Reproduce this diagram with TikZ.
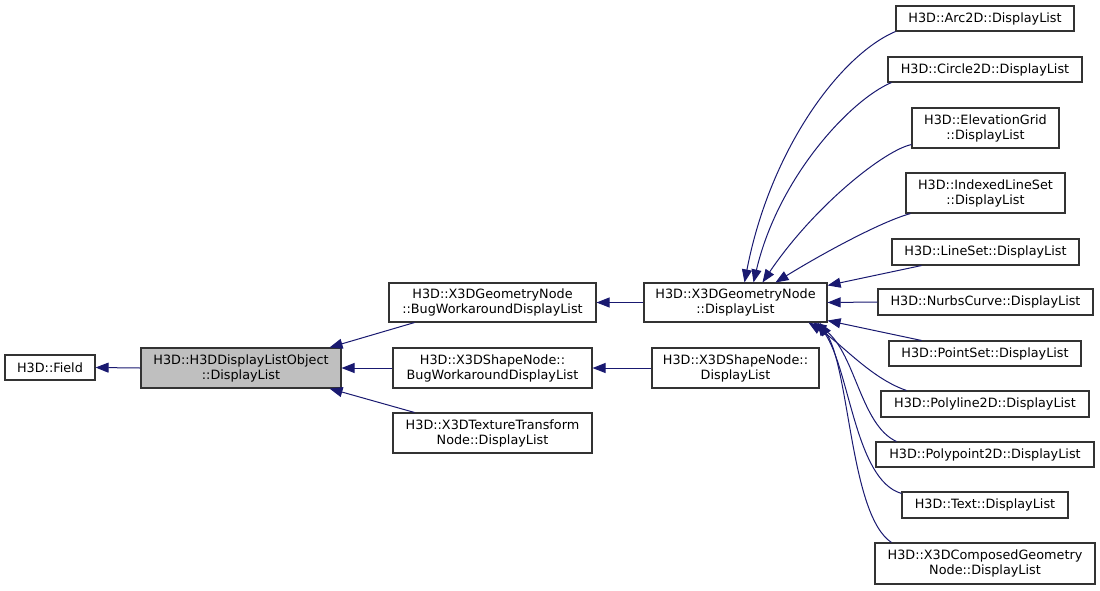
\documentclass[tikz,border=0pt]{standalone}
\usepackage{fontspec}
\setmainfont{DejaVu Sans}
\usetikzlibrary{arrows.meta}
\definecolor{edgecol}{HTML}{191970}
\definecolor{boxgray}{HTML}{BFBFBF}
\definecolor{boxline}{HTML}{333333}
\begin{document}
\begin{tikzpicture}[x=1pt,y=-1pt,
  box/.style={draw=boxline, line width=1.1pt, fill=white, inner sep=0pt, align=center,
    font=\fontsize{12.8}{15}\selectfont, text=black},
  edge/.style={draw=edgecol, line width=1pt, -{Triangle[length=13pt,width=10pt]}, color=edgecol}]
\useasboundingbox (0,0) rectangle (1100,590);

% left and middle
\node[box, minimum width=90pt, minimum height=25pt] (field) at (50,367.5) {H3D::Field};
\node[box, fill=boxgray, minimum width=200pt, minimum height=40pt] (dlo) at (241,368) {H3D::H3DDisplayListObject\\::DisplayList};
\node[box, minimum width=207pt, minimum height=39pt] (gbug) at (492.5,302.5) {H3D::X3DGeometryNode\\::BugWorkaroundDisplayList};
\node[box, minimum width=199pt, minimum height=40pt] (sbug) at (492.5,368) {H3D::X3DShapeNode::\\BugWorkaroundDisplayList};
\node[box, minimum width=199pt, minimum height=40pt] (ttr) at (492.5,433) {H3D::X3DTextureTransform\\Node::DisplayList};
\node[box, minimum width=183pt, minimum height=39pt] (gdl) at (735.5,302.5) {H3D::X3DGeometryNode\\::DisplayList};
\node[box, minimum width=167pt, minimum height=40pt] (sdl) at (735.5,368) {H3D::X3DShapeNode::\\DisplayList};

% right column
\node[box, minimum width=178pt, minimum height=25pt] (arc) at (985,18.5) {H3D::Arc2D::DisplayList};
\node[box, minimum width=194pt, minimum height=25pt] (circ) at (985,69.5) {H3D::Circle2D::DisplayList};
\node[box, minimum width=147pt, minimum height=40pt] (elev) at (985.5,128) {H3D::ElevationGrid\\::DisplayList};
\node[box, minimum width=159pt, minimum height=40pt] (ils) at (985.5,193) {H3D::IndexedLineSet\\::DisplayList};
\node[box, minimum width=187pt, minimum height=26pt] (lset) at (985.5,252) {H3D::LineSet::DisplayList};
\node[box, minimum width=215pt, minimum height=26pt] (nurbs) at (985.5,302) {H3D::NurbsCurve::DisplayList};
\node[box, minimum width=192pt, minimum height=25pt] (pset) at (985,353.5) {H3D::PointSet::DisplayList};
\node[box, minimum width=208pt, minimum height=26pt] (polyl) at (985,404) {H3D::Polyline2D::DisplayList};
\node[box, minimum width=218pt, minimum height=25pt] (polyp) at (985,454.5) {H3D::Polypoint2D::DisplayList};
\node[box, minimum width=166pt, minimum height=26pt] (txt) at (985,505) {H3D::Text::DisplayList};
\node[box, minimum width=220pt, minimum height=41pt] (comp) at (985,563.5) {H3D::X3DComposedGeometry\\Node::DisplayList};

% edges
\draw[edge] (dlo.west) -- (field.east);
\draw[edge] ([xshift=26pt]gbug.south west) -- ([xshift=-12pt]dlo.north east);
\draw[edge] (sbug.west) -- (dlo.east);
\draw[edge] ([xshift=22pt]ttr.north west) -- ([xshift=-12pt]dlo.south east);
\draw[edge] (gdl.west) -- (gbug.east);
\draw[edge] (sdl.west) -- (sbug.east);

\draw[edge] (arc.south west) .. controls (840,55) and (770,150) .. ([xshift=9pt]gdl.north);
\draw[edge] ([xshift=4pt]circ.south west) .. controls (850,100) and (778,178) .. ([xshift=18pt]gdl.north);
\draw[edge] ([yshift=4pt]elev.south west) .. controls (885,150) and (815,205) .. ([xshift=27pt]gdl.north);
\draw[edge] ([xshift=5pt]ils.south west) .. controls (880,222) and (820,255) .. ([xshift=40pt]gdl.north);
\draw[edge] ([xshift=30pt]lset.south west) -- ([yshift=-3pt]gdl.north east);
\draw[edge] (nurbs.west) -- (gdl.east);
\draw[edge] ([xshift=33pt]pset.north west) -- ([yshift=2pt]gdl.south east);
\draw[edge] ([xshift=26pt]polyl.north west) .. controls (870,378) and (840,342) .. ([xshift=73pt]gdl.south);
\draw[edge] ([xshift=21pt]polyp.north west) .. controls (860,425) and (855,350) .. ([xshift=78pt]gdl.south);
\draw[edge] ([yshift=-2pt]txt.north west) .. controls (855,480) and (850,370) .. ([xshift=82pt]gdl.south);
\draw[edge] ([xshift=17pt]comp.north west) .. controls (850,515) and (850,370) .. ([xshift=84pt]gdl.south);
\end{tikzpicture}
\end{document}
